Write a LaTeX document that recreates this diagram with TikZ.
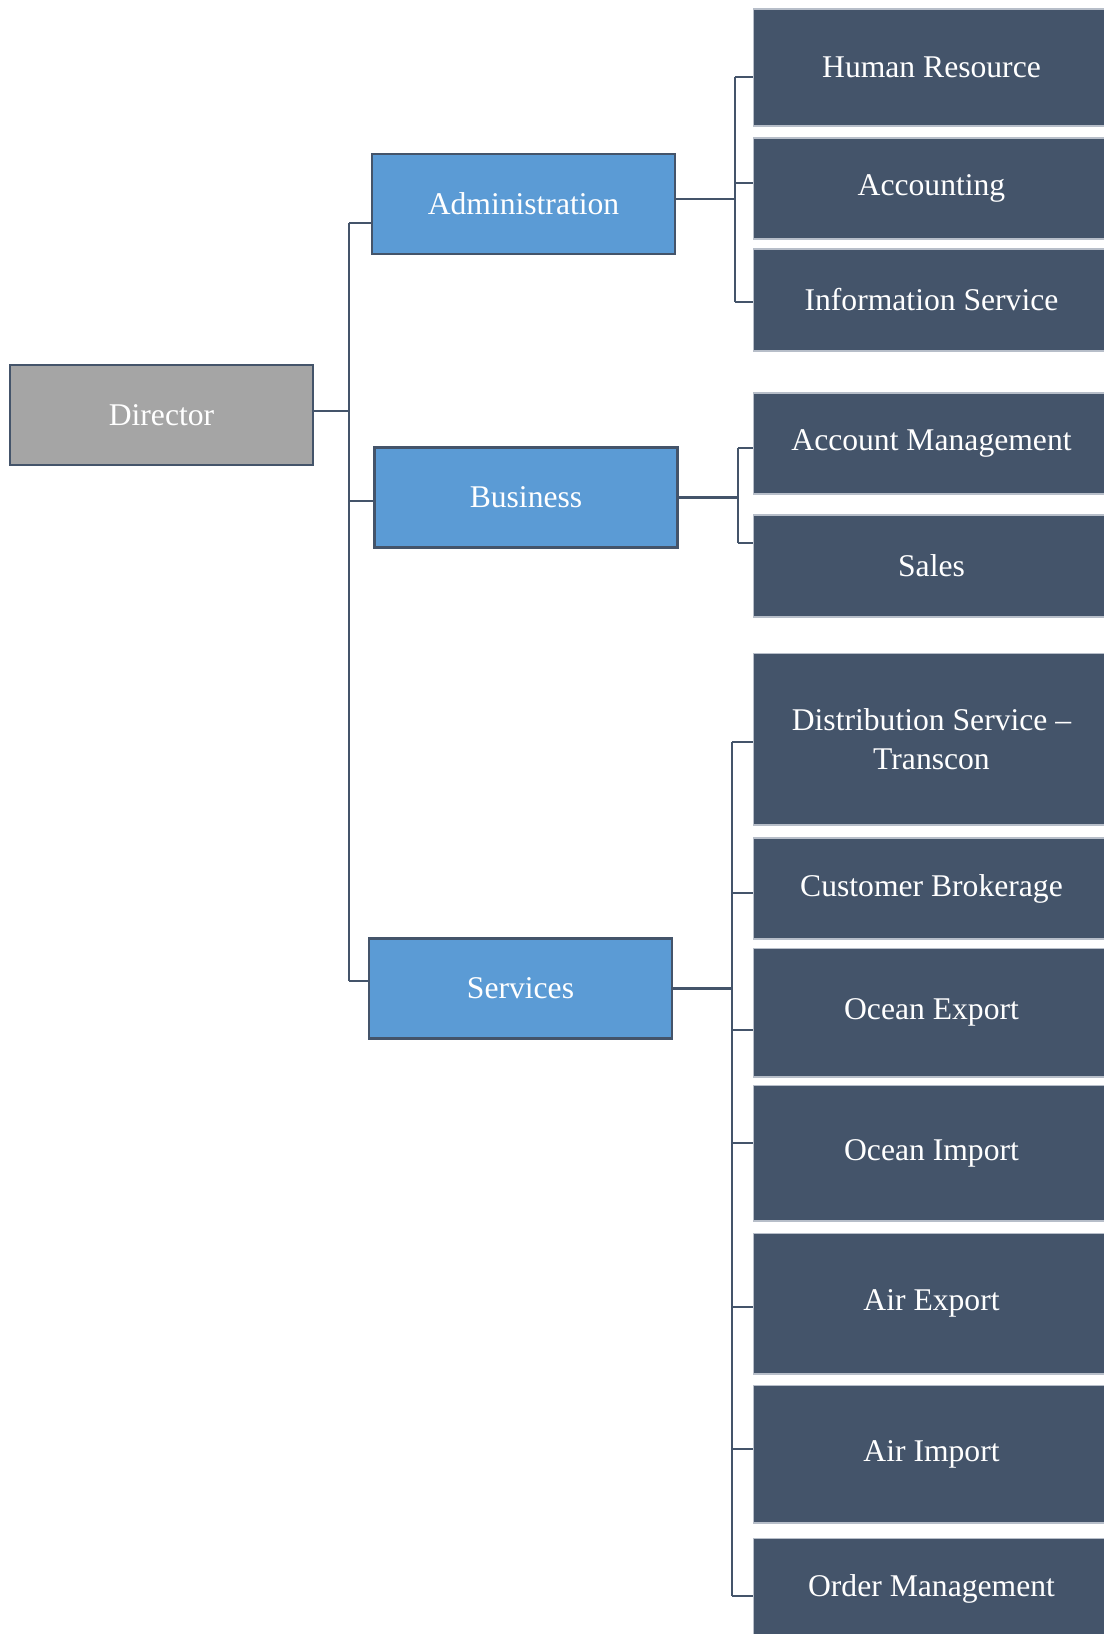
\documentclass[tikz,border=0pt]{standalone}
\usepackage{fontspec}
\setmainfont{Liberation Serif}
\usepackage{tikz}
\usetikzlibrary{positioning}
\definecolor{slate}{HTML}{44546A}
\definecolor{steel}{HTML}{5B9BD5}
\definecolor{midgray}{HTML}{A5A5A5}
\definecolor{rim}{HTML}{B7BEC9}
\tikzset{
  head/.style={draw=slate, line width=1.4pt, fill=midgray, minimum width=6.06cm,
               minimum height=2cm, inner sep=0pt, align=center,
               font=\fontsize{18}{22.5}\selectfont\color{white}},
  dept/.style={head, fill=steel},
  unit/.style={draw=rim, line width=0.6pt, fill=slate, minimum width=7.14cm,
               inner sep=0pt, align=center,
               font=\fontsize{18}{22.5}\selectfont\color{white}},
  link/.style={draw=slate, line width=1.3pt}
}

\begin{document}
\begin{tikzpicture}[x=0.02cm,y=-0.02cm]
  \useasboundingbox (0,0) rectangle (1103,1634);
  % top and departments
  \node[head] (dir) at (161.5,415) {Director};
  \node[dept] (adm) at (523.5,204) {Administration};
  \node[dept] (bus) at (526,497.5) {Business};
  \node[dept] (svc) at (520.5,988.5) {Services};
  % units
  \node[unit, minimum height=2.34cm] (hr)   at (931.5,67.5)  {Human Resource};
  \node[unit, minimum height=2.02cm] (acc)  at (931.5,188.5) {Accounting};
  \node[unit, minimum height=2.04cm] (info) at (931.5,300)   {Information Service};
  \node[unit, minimum height=2.02cm] (am)   at (931.5,443.5) {Account Management};
  \node[unit, minimum height=2.04cm] (sal)  at (931.5,566)   {Sales};
  \node[unit, minimum height=3.44cm] (dist) at (931.5,739)   {Distribution Service --\\Transcon};
  \node[unit, minimum height=2.02cm] (cb)   at (931.5,888.5) {Customer Brokerage};
  \node[unit, minimum height=2.58cm] (oe)   at (931.5,1012.5){Ocean Export};
  \node[unit, minimum height=2.72cm] (oi)   at (931.5,1153)  {Ocean Import};
  \node[unit, minimum height=2.82cm] (ae)   at (931.5,1303.5){Air Export};
  \node[unit, minimum height=2.76cm] (ai)   at (931.5,1454)  {Air Import};
  \node[unit, minimum height=2.04cm] (om)   at (931.5,1589)  {Order Management};
  % joints of the elbow connectors
  \coordinate (trunk)  at (349,0);
  \coordinate (ajoint) at (735,0);
  \coordinate (bjoint) at (738,0);
  \coordinate (sjoint) at (732,0);
  % tick points on the boxes (a little off centre, as in the chart)
  \foreach \u/\dy in {adm/-0.38,bus/-0.07,svc/0.15,hr/-0.19,acc/0.11,info/-0.04,
                      am/-0.09,sal/0.46,dist/-0.06,cb/-0.09,oe/-0.35,oi/0.2,
                      ae/-0.07,ai/0.1,om/-0.14}
    \coordinate (\u-t) at ([yshift=\dy cm]\u.west);
  \foreach \u/\dy in {dir/0.08,adm/0.1,bus/0,svc/0}
    \coordinate (\u-o) at ([yshift=\dy cm]\u.east);
  % director to departments
  \draw[link] (dir-o) -- (trunk |- dir-o);
  \draw[link] (trunk |- adm-t) -- (trunk |- svc-t);
  \foreach \d in {adm,bus,svc}
    \draw[link] (trunk |- \d-t) -- (\d-t);
  % administration
  \draw[link] (adm-o) -- (ajoint |- adm-o);
  \draw[link] (ajoint |- hr-t) -- (ajoint |- info-t);
  \foreach \u in {hr,acc,info}
    \draw[link] (ajoint |- \u-t) -- (\u-t);
  % business
  \draw[link] (bus-o) -- (bjoint |- bus-o);
  \draw[link] (bjoint |- am-t) -- (bjoint |- sal-t);
  \foreach \u in {am,sal}
    \draw[link] (bjoint |- \u-t) -- (\u-t);
  % services
  \draw[link] (svc-o) -- (sjoint |- svc-o);
  \draw[link] (sjoint |- dist-t) -- (sjoint |- om-t);
  \foreach \u in {dist,cb,oe,oi,ae,ai,om}
    \draw[link] (sjoint |- \u-t) -- (\u-t);
\end{tikzpicture}
\end{document}
